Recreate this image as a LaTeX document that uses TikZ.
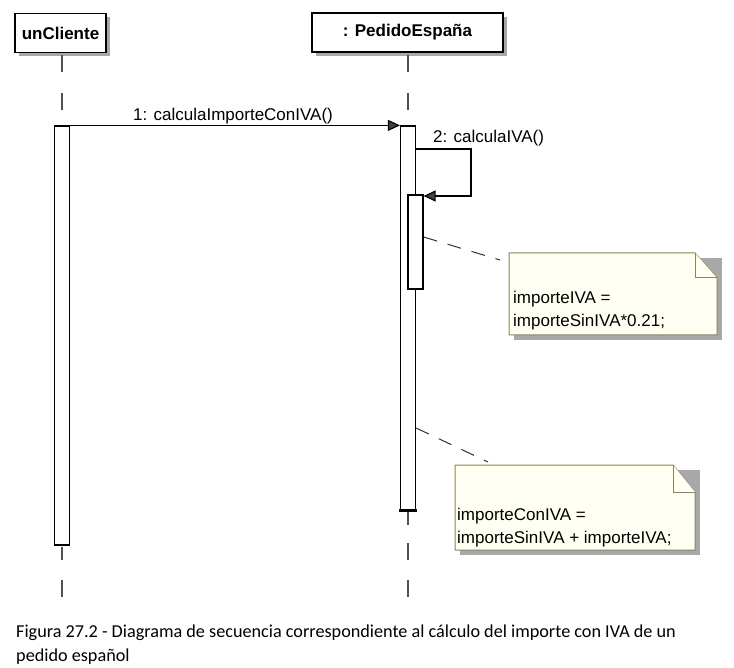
\documentclass[tikz,border=0pt]{standalone}
\usepackage{fontspec}
\setmainfont{Liberation Sans}
\newfontfamily\capfont{Carlito}
\usetikzlibrary{arrows.meta,shadows}
\definecolor{notebd}{HTML}{8C8558}
\definecolor{notefill}{HTML}{FFFFF4}
\definecolor{shadowgray}{HTML}{A8A8A8}
\definecolor{lifegray}{HTML}{505050}
\begin{document}
\begin{tikzpicture}[x=1pt,y=-1pt,
  objbox/.style={draw=black, line width=1.3pt, fill=white, inner sep=0pt,
    font=\fontsize{17}{20}\selectfont\bfseries,
    drop shadow={shadow xshift=4pt, shadow yshift=-4pt, fill=shadowgray, opacity=1}},
  actbar/.style={draw=black, line width=1.2pt, fill=white, inner sep=0pt, minimum width=15pt},
  lifeline/.style={draw=lifegray, line width=1.2pt},
  msg/.style={draw=black, line width=1.1pt, -{Triangle[length=12pt,width=11pt,fill=black!75]}},
  lbl/.style={font=\fontsize{17}{20}\selectfont, inner sep=0pt, anchor=base west},
  notebox/.style={draw=notebd, line width=1pt, fill=notefill},
  noteshadow/.style={fill=shadowgray},
  notelink/.style={draw=black!80, line width=1pt, dash pattern=on 14pt off 11pt},
  notetext/.style={font=\fontsize{17}{23}\selectfont, inner sep=0pt, anchor=base west, align=left}
]
\useasboundingbox (0,0) rectangle (734,668);
\fill[white] (0,0) rectangle (734,668);

% objects
\node[objbox, minimum width=91pt, minimum height=39pt] (cli) at (60.5,33) {unCliente};
\node[objbox, minimum width=191pt, minimum height=39pt] (ped) at (407.5,32.5) {: PedidoEspaña};

% lifelines top
\coordinate (c1) at (62,55); \coordinate (c2) at (62,72);
\coordinate (c3) at (62,93); \coordinate (c4) at (62,110);
\draw[lifeline] (c1) -- (c2); \draw[lifeline] (c3) -- (c4);
\coordinate (p1) at (408,55); \coordinate (p2) at (408,72);
\coordinate (p3) at (408,93); \coordinate (p4) at (408,110);
\draw[lifeline] (p1) -- (p2); \draw[lifeline] (p3) -- (p4);

% lifelines bottom
\coordinate (c5) at (62,547); \coordinate (c6) at (62,560);
\coordinate (c7) at (62,580); \coordinate (c8) at (62,597);
\draw[lifeline] (c5) -- (c6); \draw[lifeline] (c7) -- (c8);
\coordinate (p5) at (408,512); \coordinate (p6) at (408,525);
\coordinate (p7) at (408,543); \coordinate (p8) at (408,560);
\coordinate (p9) at (408,580); \coordinate (p10) at (408,597);
\draw[lifeline] (p5) -- (p6); \draw[lifeline] (p7) -- (p8); \draw[lifeline] (p9) -- (p10);

% activation bars
\node[actbar, minimum height=419pt] (cbar) at (62,335.5) {};
\node[actbar, minimum height=384pt] (pbar) at (408,318) {};
\draw[black, line width=3pt] ([xshift=-0.6pt]pbar.south west) -- ([xshift=0.6pt]pbar.south east);
\node[actbar, minimum height=94pt] (ibar) at (415.5,242) {};

% message 1
\draw[msg] (cbar.north east) -- (pbar.north west);
\node[lbl] (m1) at (133,121) {1: calculaImporteConIVA()};

% message 2 (self call)
\coordinate (s1) at (471,149);
\coordinate (s2) at (471,196);
\draw[msg] (pbar.east |- s1) -- (s1) -- (s2) -- (ibar.east |- s2);
\node[lbl] (m2) at (433,143) {2: calculaIVA()};

% note 1
\fill[noteshadow] (514,258) rectangle (722,340);
\draw[notebox] (509,253) -- (695,253) -- (717,278) -- (717,335) -- (509,335) -- cycle;
\draw[notebox] (695,253) -- (695,278) -- (717,278);
\node[notetext] (n1) at (513,327) {importeIVA =\\importeSinIVA*0.21;};
\coordinate (n1a) at (500,260);
\draw[notelink] (ibar.east |- 0,237) -- (n1a);

% note 2
\fill[noteshadow] (460,470) rectangle (700,555);
\draw[notebox] (455,465) -- (673,465) -- (695,492) -- (695,550) -- (455,550) -- cycle;
\draw[notebox] (673,465) -- (673,492) -- (695,492);
\node[notetext] (n2) at (457,543) {importeConIVA =\\importeSinIVA + importeIVA;};
\coordinate (n2a) at (488,462);
\draw[notelink] (pbar.east |- 0,428) -- (n2a);

% caption
\node[font=\capfont\fontsize{18.2}{24}\selectfont, inner sep=0pt, anchor=base west, align=left] (cap) at (16,661)
  {Figura 27.2 - Diagrama de secuencia correspondiente al cálculo del importe con IVA de un\\pedido español};
\end{tikzpicture}
\end{document}
